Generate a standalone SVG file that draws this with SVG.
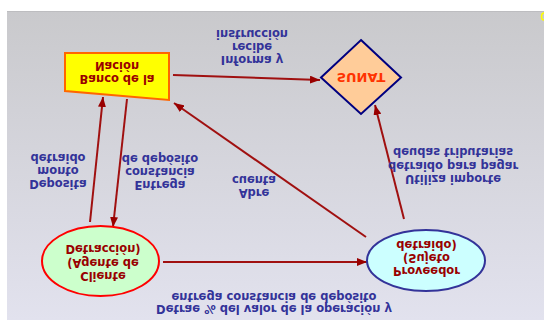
<svg xmlns="http://www.w3.org/2000/svg" width="544" height="320" viewBox="0 0 544 320">
<defs>
<linearGradient id="bg" x1="0" y1="0" x2="0" y2="1">
<stop offset="0" stop-color="#c9c9cc"/>
<stop offset="1" stop-color="#e2e2ee"/>
</linearGradient>
<marker id="ah" markerUnits="userSpaceOnUse" markerWidth="10" markerHeight="8" refX="10" refY="4" orient="auto">
<path d="M0,0 L10,4 L0,8 z" fill="#990000"/>
</marker>
<style>
.lbl{font-family:"DejaVu Sans","Verdana",sans-serif;font-weight:bold;font-size:11.5px;fill:#333399;text-anchor:middle}
.nt{font-family:"DejaVu Sans","Verdana",sans-serif;font-weight:bold;font-size:11.5px;fill:#990000;text-anchor:middle}
.con{stroke:#a01010;stroke-width:2;fill:none;marker-end:url(#ah)}
</style>
</defs>
<rect x="0" y="0" width="544" height="320" fill="#ffffff"/>
<rect x="7" y="11" width="537" height="309" fill="url(#bg)"/>
<line x1="7" y1="11.5" x2="544" y2="11.5" stroke="#bdbdc0" stroke-width="1"/>
<ellipse cx="544" cy="16.5" rx="2.5" ry="3.5" fill="none" stroke="#ffff00" stroke-width="1.5"/>

<g id="connectors">
<line class="con" x1="173" y1="75" x2="320" y2="80"/>
<line class="con" x1="90" y1="222" x2="103" y2="97"/>
<line class="con" x1="127" y1="99" x2="113" y2="227"/>
<line class="con" x1="366" y1="237" x2="174" y2="103"/>
<line class="con" x1="404" y1="219" x2="375" y2="105"/>
<line class="con" x1="163" y1="262" x2="367" y2="262"/>
</g>

<g id="labels">
<text class="lbl" transform="matrix(1 0 0 -1 252 55.5)"><tspan x="0">Informa y</tspan><tspan x="0" dy="13">recibe</tspan><tspan x="0" dy="13">instrucción</tspan></text>
<text class="lbl" transform="matrix(1 0 0 -1 58 179.5)"><tspan x="0">Deposita</tspan><tspan x="0" dy="13">monto</tspan><tspan x="0" dy="13">detraido</tspan></text>
<text class="lbl" transform="matrix(1 0 0 -1 160 181)"><tspan x="0">Entrega</tspan><tspan x="0" dy="13">constancia</tspan><tspan x="0" dy="13">de depósito</tspan></text>
<text class="lbl" transform="matrix(1 0 0 -1 254 189)"><tspan x="0">Abre</tspan><tspan x="0" dy="13">cuenta</tspan></text>
<text class="lbl" transform="matrix(1 0 0 -1 453 175)"><tspan x="0">Utiliza importe</tspan><tspan x="0" dy="13.5">detraido para pagar</tspan><tspan x="0" dy="13.5">deudas tributarias</tspan></text>
<text class="lbl" transform="matrix(1 0 0 -1 274 305)"><tspan x="0">Detrae % del valor de la operación y</tspan><tspan x="0" dy="12.5">entrega constancia de depósito</tspan></text>
</g>

<g id="banco">
<path d="M65,53 L169,53 L169,100 L65,91 Z" fill="#ffff00" stroke="#ff6600" stroke-width="2"/>
<text class="nt" transform="matrix(1 0 0 -1 117 75)"><tspan x="0">Banco de la</tspan><tspan x="0" dy="13">Nación</tspan></text>
</g>

<g id="sunat">
<path d="M361,40 L401,77.5 L361,114 L321,77.5 Z" fill="#ffcc99" stroke="#000080" stroke-width="2"/>
<text class="nt" style="fill:#ff3300;font-size:13px" transform="matrix(1 0 0 -1 361 73)">SUNAT</text>
</g>

<g id="cliente">
<ellipse cx="100.5" cy="261" rx="58.5" ry="35" fill="#ccffcc" stroke="#ff0000" stroke-width="2"/>
<text class="nt" transform="matrix(1 0 0 -1 103 272)"><tspan x="0">Cliente</tspan><tspan x="0" dy="13.5">(Agente de</tspan><tspan x="0" dy="13.5">Detracción)</tspan></text>
</g>

<g id="proveedor">
<ellipse cx="426" cy="260.5" rx="59" ry="30.5" fill="#ccffff" stroke="#333399" stroke-width="2"/>
<text class="nt" transform="matrix(1 0 0 -1 426.5 266.5)"><tspan x="0">Proveedor</tspan><tspan x="0" dy="13">(Sujeto</tspan><tspan x="0" dy="13">detraido)</tspan></text>
</g>
</svg>
